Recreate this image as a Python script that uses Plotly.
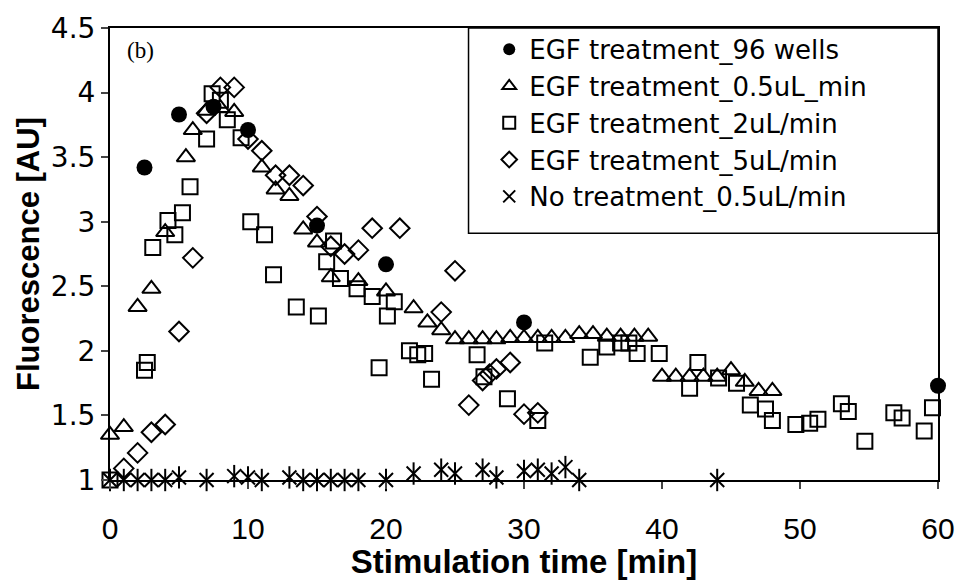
import plotly.graph_objects as go

# --- data ---
circle_x = [2.5, 5, 7.5, 10, 15, 20, 30, 60]
circle_y = [3.42, 3.83, 3.89, 3.71, 2.97, 2.67, 2.22, 1.73]

tri_x = [0, 1, 2, 3, 4, 5.5, 6, 7, 8, 9, 11, 12, 13, 14, 15, 16, 18, 20, 22, 23, 24,
         25, 26, 27, 28, 29, 30, 31, 32, 33, 34, 35, 36, 37, 38, 39,
         40, 41, 42, 43, 44, 45, 46, 47, 48]
tri_y = [1.35, 1.41, 2.34, 2.48, 2.92, 3.50, 3.71, 3.86, 3.88, 3.85, 3.42, 3.25, 3.20, 2.94, 2.84, 2.57, 2.54, 2.46, 2.33, 2.22, 2.16,
         2.09, 2.09, 2.09, 2.09, 2.10, 2.10, 2.10, 2.10, 2.10, 2.13, 2.13, 2.11, 2.11, 2.11, 2.11,
         1.80, 1.80, 1.80, 1.80, 1.80, 1.85, 1.76, 1.69, 1.69]

sq_x = [0, 2.5, 2.7, 3.1, 4.2, 4.7, 5.25, 5.8, 7.0, 7.4,
        8.0, 8.5, 9.5, 10.2, 11.2, 11.85, 13.5, 15.1, 15.7, 16.2,
        16.7, 17.9, 19.0, 19.5, 20.1, 20.6, 21.7, 22.3, 22.8, 23.3,
        26.6, 27.1, 28.8, 31.0, 31.5, 34.8, 36.0, 37.0, 37.6, 38.2,
        39.8, 42.0, 42.6, 44.1, 45.4, 46.4, 47.5, 48.0, 49.7, 50.7,
        51.3, 53.0, 53.5, 54.7, 56.8, 57.4, 59.0, 59.6]
sq_y = [1.0, 1.85, 1.91, 2.80, 3.01, 2.90, 3.07, 3.27, 3.64, 3.99,
        3.94, 3.79, 3.65, 3.00, 2.90, 2.59, 2.34, 2.27, 2.69, 2.85,
        2.56, 2.48, 2.42, 1.87, 2.27, 2.38, 2.00, 1.97, 1.98, 1.78,
        1.97, 1.80, 1.63, 1.46, 2.06, 1.95, 2.03, 2.06, 2.06, 1.98,
        1.98, 1.71, 1.91, 1.79, 1.75, 1.58, 1.55, 1.46, 1.43, 1.44,
        1.47, 1.59, 1.53, 1.30, 1.52, 1.48, 1.38, 1.56]

dia_x = [1, 2, 3, 4, 5, 6, 7, 8, 9, 10, 11, 12, 13, 14, 15, 16, 17, 18, 19, 21,
         24, 25, 26, 27, 27.5, 28, 29, 30, 31]
dia_y = [1.09, 1.21, 1.37, 1.43, 2.15, 2.72, 3.84, 4.04, 4.04, 3.64, 3.55, 3.36, 3.36, 3.28, 3.04, 2.81, 2.75, 2.78, 2.95, 2.95,
         2.30, 2.62, 1.58, 1.77, 1.82, 1.86, 1.91, 1.51, 1.52]

ast_x = [0, 1, 2, 3, 4, 5, 7, 9, 10, 11, 13, 14, 15, 16, 17, 18, 20, 22, 24, 25,
         27, 28, 30, 31, 32, 33, 34, 44]
ast_y = [1.0, 1.0, 1.0, 1.0, 1.0, 1.02, 1.0, 1.03, 1.02, 1.0, 1.02, 1.0, 1.0, 1.0, 1.0, 1.0, 1.0, 1.05, 1.08, 1.05,
         1.08, 1.02, 1.07, 1.08, 1.05, 1.10, 1.0, 1.0]

names = ["EGF treatment_96 wells", "EGF treatment_0.5uL_min", "EGF treatment_2uL/min",
         "EGF treatment_5uL/min", "No treatment_0.5uL/min"]
x_ticks = [0, 10, 20, 30, 40, 50, 60]
y_ticks = [1, 1.5, 2, 2.5, 3, 3.5, 4, 4.5]

SANS = "Liberation Sans, Arial, sans-serif"
WIDE = "DejaVu Sans, Liberation Sans, sans-serif"

fig = go.Figure()
fig.add_trace(go.Scatter(x=circle_x, y=circle_y, mode="markers", name=names[0], cliponaxis=False,
                         marker=dict(symbol="circle", size=16, color="black")))
fig.add_trace(go.Scatter(x=tri_x, y=tri_y, mode="markers", name=names[1], cliponaxis=False,
                         marker=dict(symbol="triangle-up-open", size=16, color="black", line=dict(width=2, color="black"))))
fig.add_trace(go.Scatter(x=sq_x, y=sq_y, mode="markers", name=names[2], cliponaxis=False,
                         marker=dict(symbol="square-open", size=15, color="black", line=dict(width=2, color="black"))))
fig.add_trace(go.Scatter(x=dia_x, y=dia_y, mode="markers", name=names[3], cliponaxis=False,
                         marker=dict(symbol="diamond-open", size=15, color="black", line=dict(width=2, color="black"))))
fig.add_trace(go.Scatter(x=ast_x, y=ast_y, mode="markers", name=names[4], cliponaxis=False,
                         marker=dict(symbol="x-thin-open", size=14, color="black", line=dict(width=2, color="black"))))
fig.add_trace(go.Scatter(x=ast_x, y=ast_y, mode="markers", name=names[4], showlegend=False, cliponaxis=False,
                         marker=dict(symbol="line-ns-open", size=16, color="black", line=dict(width=2, color="black"))))

fig.update_layout(
    width=967, height=580,
    margin=dict(l=110, r=21, t=20, b=93),
    paper_bgcolor="white", plot_bgcolor="white",
    font=dict(family=SANS, color="black", size=24),
    showlegend=True,
    legend=dict(x=0.458, y=1.005, xanchor="left", yanchor="top",
                borderwidth=0, bgcolor="rgba(255,255,255,0)",
                font=dict(size=26, family=WIDE), itemsizing="constant",
                tracegroupgap=0),
    xaxis=dict(range=[0, 60], tickvals=x_ticks, ticks="outside", ticklen=7, tickwidth=1.5,
               showline=True, linecolor="black", linewidth=2, mirror=True, showgrid=False, zeroline=False,
               tickfont=dict(size=30, family=SANS), ticklabelstandoff=14,
               title=dict(text="<b>Stimulation time [min]</b>", font=dict(size=33, family=SANS), standoff=0)),
    yaxis=dict(range=[1, 4.5], tickvals=y_ticks, ticks="outside", ticklen=7, tickwidth=1.5,
               showline=True, linecolor="black", linewidth=2, mirror=True, showgrid=False, zeroline=False,
               tickfont=dict(size=28, family=WIDE), ticklabelstandoff=0,
               title=dict(text="<b>Fluorescence [AU]</b>", font=dict(size=31, family=SANS), standoff=2)),
)

# legend frame
fig.add_shape(type="rect", xref="paper", yref="paper", x0=0.433, x1=1.0, y0=0.546, y1=1.0,
              line=dict(color="black", width=1.5), fillcolor="rgba(0,0,0,0)", layer="above")

fig.add_annotation(x=0.018, y=0.95, xref="paper", yref="paper", text="(b)", showarrow=False,
                   xanchor="left", yanchor="middle",
                   font=dict(family="Liberation Serif, Times New Roman, serif", size=23, color="black"))

fig.write_html("out.html")
